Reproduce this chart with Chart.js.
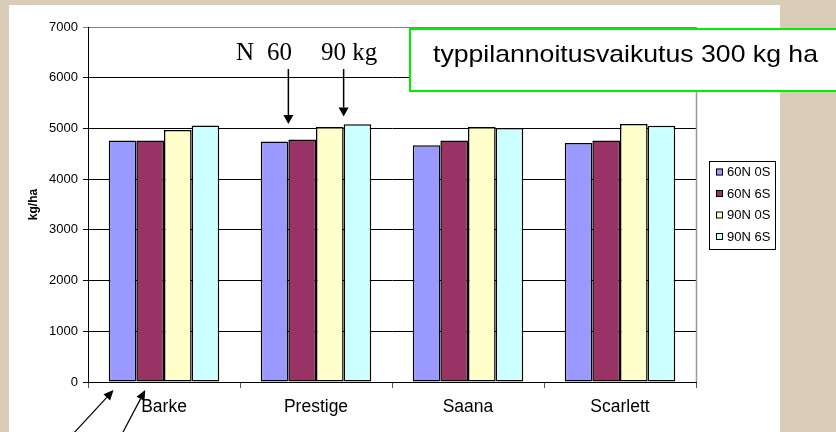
<!DOCTYPE html>
<html>
<head>
<meta charset="utf-8">
<script src="https://cdn.jsdelivr.net/npm/chart.js@4/dist/chart.umd.min.js"></script>
<style>
  html, body { margin: 0; padding: 0; background: #d9cdb7; }
  #wrap { position: absolute; left: 0; top: 0; width: 836px; height: 432px; }
</style>
</head>
<body>
<div id="wrap"><canvas id="c" width="836" height="432"></canvas></div>
<script>
// ---- data ----
const categories = ['Barke', 'Prestige', 'Saana', 'Scarlett'];
const seriesLabels = ['60N 0S', '60N 6S', '90N 0S', '90N 6S'];
const s60N0S = [4760, 4740, 4670, 4715];
const s60N6S = [4760, 4780, 4760, 4760];
const s90N0S = [4970, 5030, 5030, 5085];
const s90N6S = [5060, 5080, 5010, 5055];
const yMin = 0, yMax = 7000, yStep = 1000;
const yTitle = 'kg/ha';
const boxTitle = 'typpilannoitusvaikutus 300 kg ha';
const arrowLabels = ['N', '60', '90 kg'];

const seriesColors = ['#9999FF', '#993366', '#FFFFCC', '#CCFFFF'];
const seriesData = [s60N0S, s60N6S, s90N0S, s90N6S];

const SANS = '"Liberation Sans", Arial, sans-serif';
const SERIF = '"Liberation Serif", "Times New Roman", serif';

function arrow(ctx, x1, y1, x2, y2, head, halfW) {
  const a = Math.atan2(y2 - y1, x2 - x1);
  const bx = x2 - head * Math.cos(a), by = y2 - head * Math.sin(a);
  ctx.beginPath();
  ctx.moveTo(x1, y1);
  ctx.lineTo(bx, by);
  ctx.stroke();
  ctx.beginPath();
  ctx.moveTo(x2, y2);
  ctx.lineTo(bx + halfW * Math.sin(a), by - halfW * Math.cos(a));
  ctx.lineTo(bx - halfW * Math.sin(a), by + halfW * Math.cos(a));
  ctx.closePath();
  ctx.fill();
}

const decor = {
  id: 'decor',
  beforeDraw(chart) {
    const ctx = chart.ctx;
    ctx.save();
    ctx.fillStyle = '#d9cdb7';
    ctx.fillRect(0, 0, chart.width, chart.height);
    ctx.fillStyle = '#ffffff';
    ctx.fillRect(9, 5, 771, 427);
    ctx.restore();
  },
  afterDraw(chart) {
    const ctx = chart.ctx;
    const ca = chart.chartArea;
    ctx.save();
    // plot area right border
    ctx.strokeStyle = '#9a9a9a';
    ctx.lineWidth = 1.5;
    ctx.beginPath();
    ctx.moveTo(ca.right + 0.5, ca.top);
    ctx.lineTo(ca.right + 0.5, ca.bottom);
    ctx.stroke();

    // title box
    ctx.fillStyle = '#ffffff';
    ctx.fillRect(409, 28, 440, 64);
    ctx.strokeStyle = '#00ee00';
    ctx.lineWidth = 2;
    ctx.strokeRect(410, 29, 440, 62);
    ctx.fillStyle = '#000';
    ctx.font = '24px ' + SANS;
    ctx.textBaseline = 'alphabetic';
    ctx.textAlign = 'left';
    const tw = ctx.measureText(boxTitle).width;
    ctx.save();
    ctx.translate(433, 62);
    ctx.scale(385 / tw, 1);
    ctx.fillText(boxTitle, 0, 0);
    ctx.restore();

    // N 60 90 kg annotation
    ctx.font = '25px ' + SERIF;
    ctx.fillText(arrowLabels[0], 236, 60);
    ctx.fillText(arrowLabels[1], 267, 60);
    ctx.fillText(arrowLabels[2], 321, 60);

    // arrows to Prestige bar pairs
    const m0 = chart.getDatasetMeta(0).data[1];
    const m2 = chart.getDatasetMeta(2).data[1];
    const xA = m0.x + m0.width / 2;
    const xB = m2.x + m2.width / 2;
    ctx.strokeStyle = '#000';
    ctx.fillStyle = '#000';
    ctx.lineWidth = 1.5;
    arrow(ctx, xA, 69, xA, 124, 9, 5);
    arrow(ctx, xB, 69, xB, 116.5, 9, 5);

    // arrows to Barke bars from below
    const b0 = chart.getDatasetMeta(0).data[0];
    const b1 = chart.getDatasetMeta(1).data[0];
    ctx.lineWidth = 1.2;
    arrow(ctx, 73, 434, b0.x - 9, 390, 10, 4.5);
    arrow(ctx, 122, 434, b1.x - 5, 390, 10, 4.5);

    // legend
    ctx.fillStyle = '#fff';
    ctx.fillRect(709, 161, 66, 88);
    ctx.strokeStyle = '#000';
    ctx.lineWidth = 1;
    ctx.strokeRect(709.5, 161.5, 66, 88);
    ctx.font = '13px ' + SANS;
    ctx.textBaseline = 'middle';
    ctx.textAlign = 'left';
    seriesLabels.forEach((lab, i) => {
      const cy = 172 + i * 21.5;
      ctx.fillStyle = seriesColors[i];
      ctx.fillRect(716, cy - 3.5, 7, 7);
      ctx.strokeStyle = '#000';
      ctx.strokeRect(716.5, cy - 3, 6, 6);
      ctx.fillStyle = '#000';
      ctx.fillText(lab, 727, cy + 0.5);
    });
    ctx.restore();
  }
};

new Chart(document.getElementById('c'), {
  type: 'bar',
  data: {
    labels: categories,
    datasets: seriesLabels.map((lab, i) => ({
      label: lab,
      data: seriesData[i],
      backgroundColor: seriesColors[i],
      borderColor: '#000',
      borderWidth: 1.5,
      borderSkipped: false,
      categoryPercentage: 0.727,
      barPercentage: 1.0
    }))
  },
  options: {
    responsive: false,
    animation: false,
    devicePixelRatio: 1,
    layout: { padding: { left: 0, top: 27, right: 140, bottom: 0 } },
    plugins: { legend: { display: false }, tooltip: { enabled: false } },
    scales: {
      x: {
        offset: true,
        grid: { offset: true, drawOnChartArea: false, tickLength: 6, color: '#555', lineWidth: 1 },
        border: { color: '#000', width: 1 },
        ticks: { color: '#000', font: { family: SANS, size: 17.5 }, padding: 9, maxRotation: 0 },
        afterFit(s) { s.height = 50; }
      },
      y: {
        min: yMin, max: yMax,
        ticks: { stepSize: yStep, color: '#000', font: { family: SANS, size: 13 }, padding: 5,
                 callback: v => String(v) },
        grid: {
          color: c => (c.tick && c.tick.value === yMax) ? '#808080' : '#000',
          lineWidth: 1,
          tickLength: 5
        },
        border: { color: '#000', width: 1 },
        title: { display: true, text: yTitle, color: '#000', font: { family: SANS, size: 12, weight: 'bold' }, padding: { top: 26, bottom: 0 } },
        afterFit(s) { s.width = 88; }
      }
    }
  },
  plugins: [decor]
});
</script>
</body>
</html>
